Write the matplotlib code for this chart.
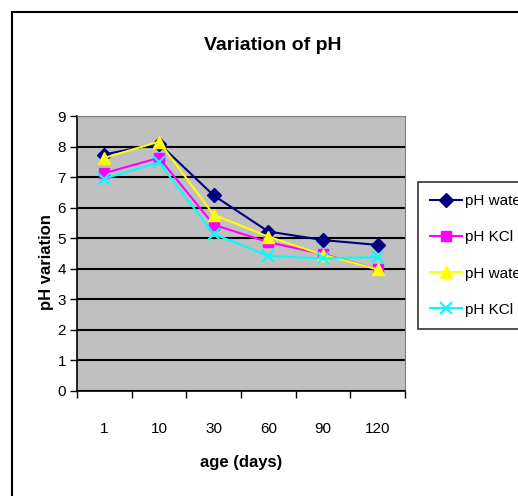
import matplotlib
matplotlib.use("Agg")
import matplotlib.pyplot as plt
from matplotlib.patches import Rectangle

plt.rcParams["font.family"] = ["Liberation Sans", "DejaVu Sans"]

# data
ages = ["1", "10", "30", "60", "90", "120"]
ph_water_1 = [7.74, 8.10, 6.40, 5.22, 4.94, 4.78]
ph_kcl_1 = [7.13, 7.63, 5.44, 4.87, 4.48, 3.98]
ph_water_2 = [7.63, 8.16, 5.77, 5.05, 4.46, 3.98]
ph_kcl_2 = [6.95, 7.48, 5.14, 4.42, 4.34, 4.38]

series = [
    ("pH water", ph_water_1, "#000080", "D", 7),
    ("pH KCl", ph_kcl_1, "#FF00FF", "s", 7),
    ("pH water", ph_water_2, "#FFFF00", "^", 9),
    ("pH KCl", ph_kcl_2, "#00FFFF", "x", 8),
]

W, H = 518, 496
fig = plt.figure(figsize=(W / 100, H / 100), dpi=100)
fig.patch.set_facecolor("white")

# chart area border (runs off the right and bottom edge)
fig.patches.append(Rectangle((12 / W, -0.05), 1.1, 1 - 12 / H + 0.05,
                             transform=fig.transFigure, fill=False,
                             edgecolor="black", linewidth=1.5))

ax = fig.add_axes([77 / W, 1 - 391 / H, (405 - 77) / W, (391 - 116) / H])
ax.set_facecolor("#C0C0C0")

x = list(range(len(ages)))
for label, vals, color, marker, ms in series:
    kw = dict(markeredgecolor=color)
    if marker == "x":
        kw["markeredgewidth"] = 1.5
    ax.plot(x, vals, color=color, linewidth=1.5, marker=marker,
            markersize=ms, label=label, zorder=3, **kw)

ax.set_xlim(-0.5, len(ages) - 0.5)
ax.set_ylim(0, 9)
ax.set_yticks(range(0, 10))
ax.yaxis.grid(True, color="black", linewidth=1.5)
ax.set_axisbelow(True)

ax.set_xticks([i - 0.5 for i in range(len(ages) + 1)])
ax.set_xticklabels([])
ax.set_xticks(x, minor=True)
ax.set_xticklabels(ages, minor=True)
ax.tick_params(axis="x", which="major", length=5, width=1, direction="out")
ax.tick_params(axis="x", which="minor", length=0, pad=22, labelsize=11)
ax.tick_params(axis="y", length=5, width=1, direction="out", labelsize=11, pad=3)

for side in ("top", "right"):
    ax.spines[side].set_color("#808080")
ax.spines["left"].set_linewidth(1.2)
ax.spines["bottom"].set_linewidth(1.2)

fig.text(273 / W, 1 - 45 / H, "Variation of pH", ha="center", va="center",
         fontsize=14, fontweight="bold")
fig.text(241 / W, 1 - 463 / H, "age (days)", ha="center", va="center",
         fontsize=12, fontweight="bold")
fig.text(46 / W, 1 - 262 / H, "pH variation", ha="center", va="center",
         fontsize=12, fontweight="bold", rotation=90)

leg = fig.legend(loc="upper left", bbox_to_anchor=(418 / W, 1 - 182 / H),
                 borderaxespad=0, fontsize=11, frameon=True, fancybox=False,
                 edgecolor="black", handlelength=2.1, labelspacing=1.45,
                 borderpad=0.8, handletextpad=0.2)
leg.get_frame().set_linewidth(1.2)

fig.savefig("out.png", dpi=100, facecolor="white")
